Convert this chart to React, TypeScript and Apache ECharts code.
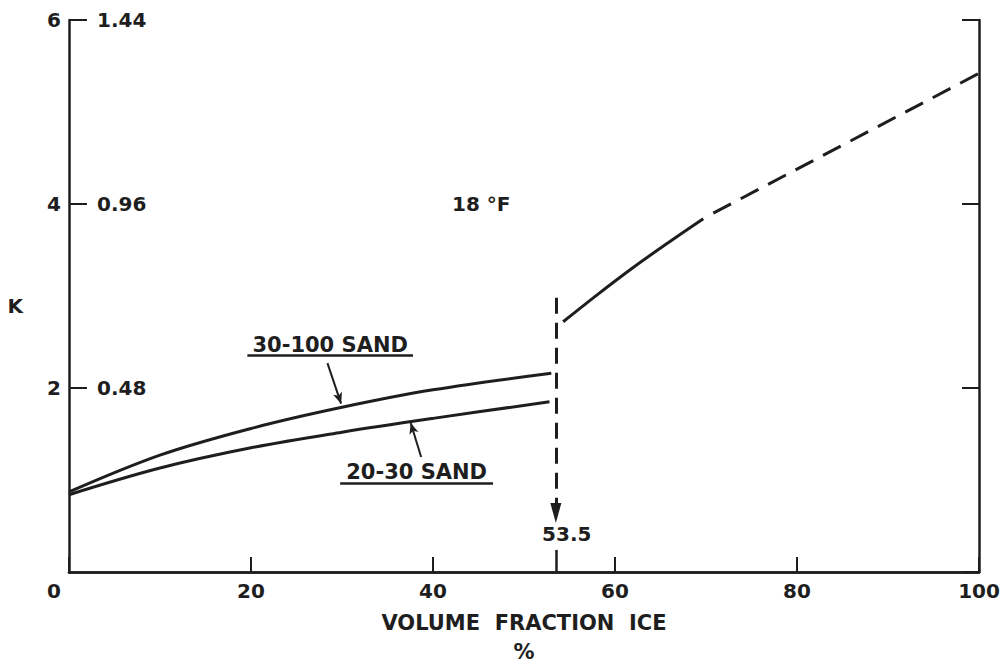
import React, { useEffect, useRef } from "react";
import * as echarts from "echarts";

// ---- data ----
const xTicks = [0, 20, 40, 60, 80, 100];
const kTicks = [0, 2, 4, 6];
const altTickLabels = ["", "0.48", "0.96", "1.44"]; // secondary scale at K = 0,2,4,6

const sand30x = [0, 10, 20, 30, 40, 53];
const sand30y = [0.87, 1.27, 1.56, 1.79, 1.98, 2.16];

const sand20x = [0, 10, 20, 30, 40, 52.8];
const sand20y = [0.84, 1.13, 1.35, 1.52, 1.67, 1.85];

const iceSolidX = [54.3, 58, 62, 66, 69.7];
const iceSolidY = [2.72, 3.01, 3.31, 3.59, 3.84];

const iceDashX = [70.8, 100];
const iceDashY = [3.9, 5.42];

const transitionX = 53.5;
const transitionTop = 2.98;
const transitionTip = 0.64;

// annotation texts anchored in data coordinates
const noteTexts = ["18 °F", "30-100 SAND", "20-30 SAND", "53.5"];
const noteX = [45.3, 28.7, 38.2, 54.7];
const noteY = [4.0, 2.47, 1.09, 0.41];

const FONT = "DejaVu Sans";
const INK = "#1e1e1e";

const zip = (xs: number[], ys: number[]) => xs.map((x, i) => [x, ys[i]]);

export default function App() {
  const ref = useRef<HTMLDivElement>(null);
  useEffect(() => {
    if (!ref.current) return;
    const chart = echarts.init(ref.current, null, { renderer: "svg" });
    const txt = { fontFamily: FONT, fontWeight: "bold" as const, color: INK, fontSize: 20 };
    const lineBase = { color: INK, width: 3 };
    const option: any = {
      animation: false,
      backgroundColor: "#fff",
      textStyle: { fontFamily: FONT },
      grid: { left: 69, right: 23, top: 20, bottom: 91, containLabel: false, outerBoundsMode: "none" },
      xAxis: [
        {
          type: "value",
          position: "bottom",
          min: xTicks[0],
          max: xTicks[xTicks.length - 1],
          interval: 20,
          axisLine: { show: true, lineStyle: { color: INK, width: 2.5 } },
          axisTick: { show: true, inside: true, length: 15, lineStyle: { color: INK, width: 2 } },
          splitLine: { show: false },
          axisLabel: {
            ...txt,
            margin: 9,
            formatter: (v: number) => (v === 0 ? "{z|0}" : String(v)),
            rich: { z: { ...txt, padding: [0, 30, 0, 0] } },
          },
          name: "VOLUME  FRACTION  ICE\n%",
          nameLocation: "middle",
          nameGap: 36,
          nameTextStyle: { ...txt, fontSize: 21, lineHeight: 29 },
        },
        {
          type: "value",
          position: "top",
          min: 0,
          max: 100,
          axisLine: { show: true, lineStyle: { color: INK, width: 2.5 } },
          axisTick: { show: false },
          axisLabel: { show: false },
          splitLine: { show: false },
        },
      ],
      yAxis: [
        {
          type: "value",
          position: "left",
          min: 0,
          max: 6,
          interval: 2,
          axisLine: { show: true, lineStyle: { color: INK, width: 2.5 } },
          axisTick: { show: false },
          splitLine: { show: false },
          axisLabel: {
            ...txt,
            margin: 8,
            showMinLabel: false,
          },
          name: "K",
          nameLocation: "middle",
          nameRotate: 0,
          nameGap: 46,
          nameTextStyle: { ...txt, verticalAlign: "top" },
        },
        {
          type: "value",
          position: "left",
          min: 0,
          max: 6,
          interval: 2,
          z: 10,
          axisLine: { show: false },
          axisTick: { show: true, inside: true, length: 18, lineStyle: { color: INK, width: 2 } },
          splitLine: { show: false },
          axisLabel: {
            ...txt,
            inside: true,
            margin: 25,
            showMinLabel: false,
            backgroundColor: "#fff",
            padding: [1, 3],
            formatter: (v: number) => altTickLabels[kTicks.indexOf(v)] ?? "",
          },
        },
        {
          type: "value",
          position: "right",
          min: 0,
          max: 6,
          interval: 2,
          axisLine: { show: true, lineStyle: { color: INK, width: 2.5 } },
          axisTick: { show: true, inside: true, length: 17, lineStyle: { color: INK, width: 2 } },
          axisLabel: { show: false },
          splitLine: { show: false },
        },
      ],
      series: [
        {
          name: "30-100 SAND",
          type: "line",
          smooth: 0.35,
          symbol: "none",
          data: zip(sand30x, sand30y),
          lineStyle: lineBase,
        },
        {
          name: "20-30 SAND",
          type: "line",
          smooth: 0.35,
          symbol: "none",
          data: zip(sand20x, sand20y),
          lineStyle: lineBase,
        },
        {
          name: "ice",
          type: "line",
          smooth: 0.35,
          symbol: "none",
          data: zip(iceSolidX, iceSolidY),
          lineStyle: lineBase,
        },
        {
          name: "ice extrapolated",
          type: "line",
          symbol: "none",
          data: zip(iceDashX, iceDashY),
          lineStyle: { ...lineBase, type: [20, 11] },
          markLine: {
            silent: true,
            label: { show: false },
            emphasis: { disabled: true },
            data: [
              [
                { coord: [transitionX, transitionTop], symbol: "none", lineStyle: { color: INK, width: 3, type: [16, 9] } },
                { coord: [transitionX, transitionTip], symbol: "triangle", symbolSize: [11, 20] },
              ],
              [
                { coord: [transitionX, 0], symbol: "none", lineStyle: { color: INK, width: 2.5, type: "solid" } },
                { coord: [transitionX, 0.24], symbol: "none" },
              ],
              [
                { coord: [19.6, 2.36], symbol: "none", lineStyle: { color: INK, width: 2.5, type: "solid" } },
                { coord: [37.8, 2.36], symbol: "none" },
              ],
              [
                { coord: [29.8, 0.97], symbol: "none", lineStyle: { color: INK, width: 2.5, type: "solid" } },
                { coord: [46.6, 0.97], symbol: "none" },
              ],
              [
                { coord: [28.4, 2.27], symbol: "none", lineStyle: { color: INK, width: 2, type: "solid", curveness: 0.25 } },
                { coord: [29.9, 1.83], symbol: "arrow", symbolSize: [7, 11] },
              ],
              [
                { coord: [38.7, 1.25], symbol: "none", lineStyle: { color: INK, width: 2, type: "solid", curveness: -0.25 } },
                { coord: [37.55, 1.62], symbol: "arrow", symbolSize: [7, 11] },
              ],
            ],
          },
        },
      ],
    };
    chart.setOption(option);
    const graphic = noteTexts.map((t, i) => {
      const [px, py] = chart.convertToPixel({ xAxisIndex: 0, yAxisIndex: 0 } as any, [noteX[i], noteY[i]]) as number[];
      return {
        type: "text",
        x: px,
        y: py,
        z: 20,
        style: {
          text: t,
          fill: INK,
          font: `bold ${i === 1 || i === 2 ? 21 : 20}px "${FONT}"`,
          align: "center",
          verticalAlign: "middle",
        },
      };
    });
    chart.setOption({ graphic });
    return () => chart.dispose();
  }, []);
  return (
    <div
      ref={ref}
      style={{ position: "fixed", left: 0, top: 0, width: 1002, height: 663, background: "#fff" }}
    />
  );
}
